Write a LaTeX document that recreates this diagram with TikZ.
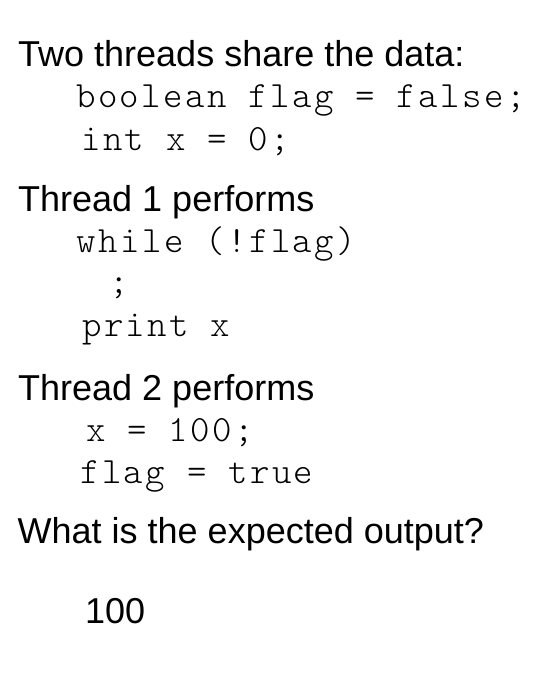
\documentclass[tikz,border=0pt]{standalone}
\usepackage{fontspec}
\setmainfont{Liberation Sans}
\newfontfamily\codefont{lmmonolt10-regular.otf}[LetterSpace=6.6]
\usetikzlibrary{positioning}

\begin{document}
\begin{tikzpicture}[x=1pt, y=1pt,
  heading/.style = {anchor = base west, inner sep = 0pt, font = \fontsize{36}{43}\selectfont},
  codeline/.style = {anchor = base west, inner sep = 0pt, font = \fontsize{37}{44}\selectfont\codefont}]
\useasboundingbox (0,0) rectangle (537,-674);
\node[heading]  (shared)  at (18,-67)    {Two threads share the data:};
\node[codeline] (flagdef) at (76,-108)   {boolean flag = false;};
\node[codeline] (xdef)    at (81,-150.5) {int x = 0;};
\node[heading]  (thone)   at (18,-211.5) {Thread 1 performs};
\node[codeline] (loop)    at (76.5,-252.5) {while (!flag)};
\node[codeline] (empty)   at (109,-293)  {;};
\node[codeline] (print)   at (82,-336.5) {print x};
\node[heading]  (thtwo)   at (18,-400.5) {Thread 2 performs};
\node[codeline] (setx)    at (86,-441.5) {x = 100;};
\node[codeline] (setflag) at (80,-483)   {flag = true};
\node[heading]  (question) at (17.5,-543) {What is the expected output?};
\node[heading]  (answer)  at (85,-623)   {100};
\end{tikzpicture}
\end{document}
